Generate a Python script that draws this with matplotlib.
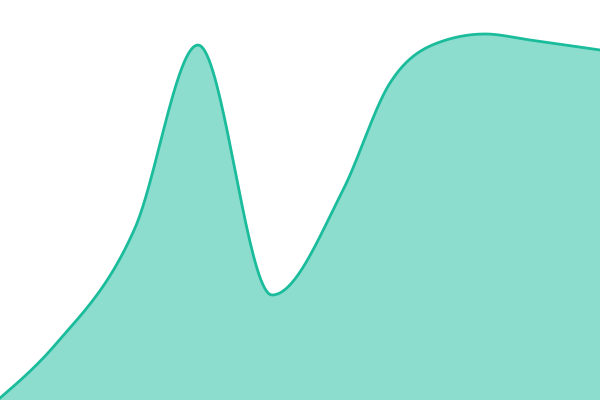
import numpy as np
import matplotlib
matplotlib.use('Agg')
import matplotlib.pyplot as plt

# data points (x position, value)
x_vals = [0, 55, 135, 198, 272, 343, 390, 440, 485, 530, 600]
y_vals = [2, 55, 172, 355, 105, 210, 317, 358, 366, 360, 350]


def monotone_x(x, y, n=40):
    # monotone cubic interpolation (same idea as d3.curveMonotoneX)
    x = np.asarray(x, float)
    y = np.asarray(y, float)
    h = np.diff(x)
    s = np.diff(y) / h
    t = np.zeros(len(x))
    for i in range(1, len(x) - 1):
        p = (s[i - 1] * h[i] + s[i] * h[i - 1]) / (h[i - 1] + h[i])
        t[i] = (np.sign(s[i - 1]) + np.sign(s[i])) * min(abs(s[i - 1]), abs(s[i]), 0.5 * abs(p))
    t[0] = (3 * s[0] - t[1]) / 2
    t[-1] = (3 * s[-1] - t[-2]) / 2
    xs, ys = [], []
    for i in range(len(x) - 1):
        u = np.linspace(0, 1, n, endpoint=False)
        h00 = 2 * u**3 - 3 * u**2 + 1
        h10 = u**3 - 2 * u**2 + u
        h01 = -2 * u**3 + 3 * u**2
        h11 = u**3 - u**2
        xs.append(x[i] + u * h[i])
        ys.append(h00 * y[i] + h10 * h[i] * t[i] + h01 * y[i + 1] + h11 * h[i] * t[i + 1])
    xs.append([x[-1]])
    ys.append([y[-1]])
    return np.concatenate(xs), np.concatenate(ys)


xs, ys = monotone_x(x_vals, y_vals)

fig = plt.figure(figsize=(6, 4), dpi=100)
ax = fig.add_axes([0, 0, 1, 1])
ax.fill_between(xs, 0, ys, color='#1abc9c', alpha=0.5, lw=0)
ax.plot(xs, ys, color='#1abc9c', lw=2.0)
ax.set_xlim(0, 600)
ax.set_ylim(0, 400)
ax.axis('off')
fig.savefig('out.png', dpi=100)
